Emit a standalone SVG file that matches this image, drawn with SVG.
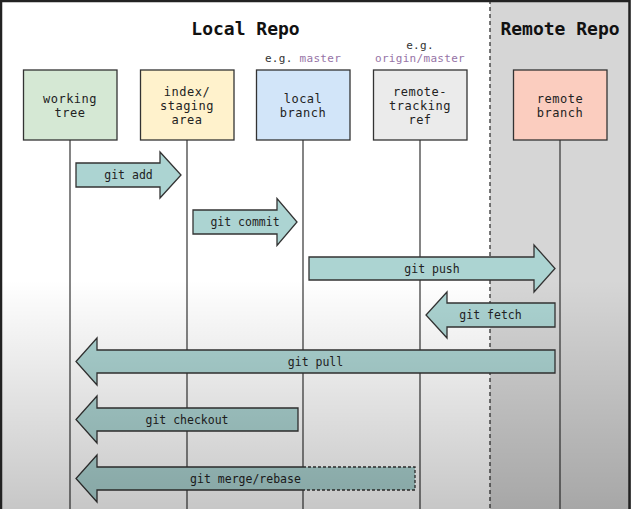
<svg xmlns="http://www.w3.org/2000/svg" width="631" height="509" viewBox="0 0 631 509">
<defs>
<style>
.box{stroke:#333;stroke-width:1.3}
.life{stroke:#333;stroke-width:1.2;fill:none}
.lbl{font-family:"DejaVu Sans Mono","Liberation Mono",monospace;font-size:12px;letter-spacing:0.5px;fill:#222;text-anchor:middle}
.title{font-family:"DejaVu Sans Mono","Liberation Mono",monospace;font-size:18px;font-weight:bold;fill:#111;text-anchor:middle}
.eg{font-family:"DejaVu Sans Mono","Liberation Mono",monospace;font-size:11px;letter-spacing:0.3px;fill:#333;text-anchor:middle}
.purple{fill:#9673a6}
.arrow{fill:#acd4d2;stroke:#333;stroke-width:1.3;stroke-linejoin:miter}
.atxt{font-family:"DejaVu Sans Mono","Liberation Mono",monospace;font-size:11.5px;fill:#222;text-anchor:middle}
</style>
<linearGradient id="shade" x1="0" y1="0" x2="0" y2="1">
<stop offset="0" stop-color="#000" stop-opacity="0"/>
<stop offset="1" stop-color="#000" stop-opacity="0.22"/>
</linearGradient>
</defs>
<rect x="0" y="0" width="631" height="509" fill="#ffffff"/>
<rect x="490" y="0" width="141" height="509" fill="#d6d6d6"/>
<line x1="490" y1="0" x2="490" y2="509" stroke="#333" stroke-width="1.3" stroke-dasharray="4,3"/>
<text class="title" x="245.5" y="35">Local Repo</text>
<text class="title" x="560" y="35">Remote Repo</text>

<g id="lifelines">
<line class="life" x1="70" y1="140" x2="70" y2="509"/>
<line class="life" x1="187" y1="140" x2="187" y2="509"/>
<line class="life" x1="303" y1="140" x2="303" y2="509"/>
<line class="life" x1="420" y1="140" x2="420" y2="509"/>
<line class="life" x1="560" y1="140" x2="560" y2="509"/>
</g>

<g id="working-tree">
<rect class="box" x="23.5" y="70" width="93.5" height="70" fill="#d5e8d4"/>
<text class="lbl" x="70" y="102.5">working<tspan x="70" dy="14">tree</tspan></text>
</g>
<g id="index">
<rect class="box" x="140.5" y="70" width="93.5" height="70" fill="#fff2cc"/>
<text class="lbl" x="187" y="95.5">index/<tspan x="187" dy="14">staging</tspan><tspan x="187" dy="14">area</tspan></text>
</g>
<g id="local-branch">
<text class="eg" x="303" y="62">e.g. <tspan class="purple">master</tspan></text>
<rect class="box" x="256.5" y="70" width="93.5" height="70" fill="#d2e5f9"/>
<text class="lbl" x="303" y="102.5">local<tspan x="303" dy="14">branch</tspan></text>
</g>
<g id="remote-tracking">
<text class="eg" x="420" y="49">e.g.<tspan class="purple" x="420" dy="13">origin/master</tspan></text>
<rect class="box" x="373.5" y="70" width="93.5" height="70" fill="#ebebeb"/>
<text class="lbl" x="420" y="95.5">remote-<tspan x="420" dy="14">tracking</tspan><tspan x="420" dy="14">ref</tspan></text>
</g>
<g id="remote-branch">
<rect class="box" x="513.5" y="70" width="93.5" height="70" fill="#fbcdbf"/>
<text class="lbl" x="560" y="102.5">remote<tspan x="560" dy="14">branch</tspan></text>
</g>

<g id="connectors">
<path class="arrow" d="M76,163 H160 V152 L181,175 L160,198 V187 H76 Z"/>
<text class="atxt" x="128.5" y="179">git add</text>
<path class="arrow" d="M193,210 H277 V198.5 L297,222 L277,245.5 V234 H193 Z"/>
<text class="atxt" x="245" y="226">git commit</text>
<path class="arrow" d="M309,257 H534 V245 L555,268.5 L534,292 V280 H309 Z"/>
<text class="atxt" x="432" y="272.5">git push</text>
<path class="arrow" d="M555,303 H447 V292 L426,315 L447,338 V327 H555 Z"/>
<text class="atxt" x="490.5" y="319">git fetch</text>
<path class="arrow" d="M555,350 H97 V338 L76,361.5 L97,385 V373 H555 Z"/>
<text class="atxt" x="315.5" y="365.5">git pull</text>
<path class="arrow" d="M298,408 H97 V396 L76,419.5 L97,443 V431 H298 Z"/>
<text class="atxt" x="187" y="423.5">git checkout</text>
<path d="M415,467 H97 V455 L76,478.5 L97,502 V490 H415 Z" fill="#acd4d2"/>
<path class="arrow" d="M303,467 H97 V455 L76,478.5 L97,502 V490 H303" style="fill:none"/>
<path d="M303,467 H415 V490 H303" fill="none" stroke="#333" stroke-width="1.3" stroke-dasharray="3,2"/>
<text class="atxt" x="245.5" y="482.5">git merge/rebase</text>
</g>

<rect x="0" y="280" width="631" height="229" fill="url(#shade)"/>
<path d="M1,509 V1 H629.5 V509" fill="none" stroke="#222" stroke-width="2.5"/>
</svg>
